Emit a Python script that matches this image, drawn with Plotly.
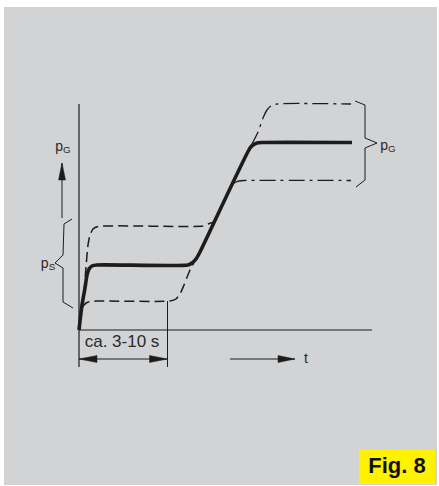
import plotly.graph_objects as go

# ---- data (arbitrary time / pressure units) ----
main_t = [0, 3, 6, 8, 10, 13, 18, 109, 113, 117, 121, 171, 174, 178, 183, 273]
main_p = [0, 25, 42, 55, 61, 64, 65, 65, 67, 71, 78, 182, 185, 187, 187.5, 187.5]

ps_upper_t = [5, 7, 9, 11, 14, 19, 124, 129, 135]
ps_upper_p = [38, 63, 85, 95, 101, 103.5, 104, 106, 108]

ps_lower_t = [3, 5, 8, 12, 18, 91, 97, 101, 105, 111, 117]
ps_lower_p = [22, 25, 27.5, 28.5, 29, 29, 31, 36, 45, 60, 71]

pg_upper_t = [172, 179, 184, 188, 192, 198, 272]
pg_upper_p = [184, 198, 212, 220, 224, 226, 226]

pg_lower_t = [153, 156, 160, 165, 272]
pg_lower_p = [145, 147.5, 149, 149.5, 149.5]

axis_t_end = 293
axis_p_top = 226
axis_p_bottom = -37
marker_t = 88.5          # end of "ca. 3-10 s" interval
dim_p = -29              # level of dimension arrow

ps_brace_t = [-7, -15, -16, -24, -16, -16, -6]
ps_brace_p = [111, 106, 75, 67, 62, 28, 22]
pg_brace_t = [276, 286, 286, 298, 286, 286, 277]
pg_brace_p = [229, 225, 192, 187, 182, 150, 143]

pG_arrow = ((-17, 112), (-17, 167))
t_arrow = ((151, dim_p), (216, dim_p))

label_t = [-16, -31, 309, 43, 227]
label_p = [183, 66, 184, -13, -29]
label_text = ["p<sub>G</sub>", "p<sub>S</sub>", "p<sub>G</sub>", "ca. 3-10 s", "t"]
label_size = [14, 14, 14, 17, 14]

INK = "#1c1c1c"
GRAY = "#d2d3d5"
FONT = "Liberation Sans, Arial, sans-serif"

fig = go.Figure()

def line(t, p, width=1.2, dash="solid", color=INK, shape="linear"):
    fig.add_trace(go.Scatter(x=t, y=p, mode="lines",
                             line=dict(color=color, width=width, dash=dash, shape=shape, smoothing=0.6),
                             hoverinfo="skip", showlegend=False))

def head(tip, tail, L=17, W=3.5):
    (x1, y1), (x0, y0) = tip, tail
    dx, dy = x1 - x0, y1 - y0
    n = (dx * dx + dy * dy) ** 0.5
    ux, uy = dx / n, dy / n
    bx, by = x1 - ux * L, y1 - uy * L
    px, py = -uy * W, ux * W
    fig.add_trace(go.Scatter(x=[x1, bx + px, bx - px, x1], y=[y1, by + py, by - py, y1],
                             mode="lines", fill="toself", fillcolor=INK,
                             line=dict(color=INK, width=0.5), hoverinfo="skip", showlegend=False))

# background panel and figure tag
fig.add_shape(type="rect", xref="paper", yref="paper", x0=4/439, x1=437/439, y0=1/486, y1=1-7/486,
              fillcolor=GRAY, line=dict(width=0), layer="below")
fig.add_shape(type="rect", xref="paper", yref="paper", x0=359/439, x1=435/439, y0=2/486, y1=36/486,
              fillcolor="#fff200", line=dict(width=0), layer="below")

# axes
line([0, 0], [axis_p_top, axis_p_bottom], 1.2)
line([0, axis_t_end], [0, 0], 1.2)
line([marker_t, marker_t], [ps_lower_p[5], axis_p_bottom], 1.0)

# curves
line(ps_upper_t, ps_upper_p, 1.5, "10px,5px", shape="spline")
line(ps_lower_t, ps_lower_p, 1.5, "10px,5px", shape="spline")
line(pg_upper_t, pg_upper_p, 1.3, "16px,5px,3px,5px", shape="spline")
line(pg_lower_t, pg_lower_p, 1.3, "16px,5px,3px,5px", shape="spline")
line(main_t, main_p, 3.6, shape="spline")

# braces
line(ps_brace_t, ps_brace_p, 1.0)
line(pg_brace_t, pg_brace_p, 1.0)

# arrows
line([pG_arrow[0][0], pG_arrow[1][0]], [pG_arrow[0][1], pG_arrow[1][1]], 1.0)
head(pG_arrow[1], pG_arrow[0], 17, 3.5)
line([t_arrow[0][0], t_arrow[1][0]], [t_arrow[0][1], t_arrow[1][1]], 1.0)
head(t_arrow[1], t_arrow[0], 17, 3.5)
line([0, marker_t], [dim_p, dim_p], 1.0)
head((0, dim_p), (marker_t, dim_p), 18, 3.5)
head((marker_t, dim_p), (0, dim_p), 18, 3.5)

# labels
fig.add_trace(go.Scatter(x=label_t, y=label_p, mode="text", text=label_text,
                         textposition="middle center",
                         textfont=dict(family=FONT, size=label_size, color="#2a2a2a"),
                         hoverinfo="skip", showlegend=False))
fig.add_trace(go.Scatter(x=[318], y=[-137], mode="text", text=["<b>Fig. 8</b>"],
                         textposition="middle center",
                         textfont=dict(family=FONT, size=22, color="#111"),
                         hoverinfo="skip", showlegend=False))

fig.update_layout(
    width=439, height=486,
    margin=dict(l=0, r=0, t=0, b=0, pad=0),
    paper_bgcolor="white", plot_bgcolor="rgba(0,0,0,0)",
    xaxis=dict(range=[-79, 360], visible=False, fixedrange=True),
    yaxis=dict(range=[-156, 330], visible=False, fixedrange=True),
    showlegend=False,
)

fig.write_html("out.html", config={"displayModeBar": False},
               post_script="document.body.style.margin='0';document.body.style.overflow='hidden';")
